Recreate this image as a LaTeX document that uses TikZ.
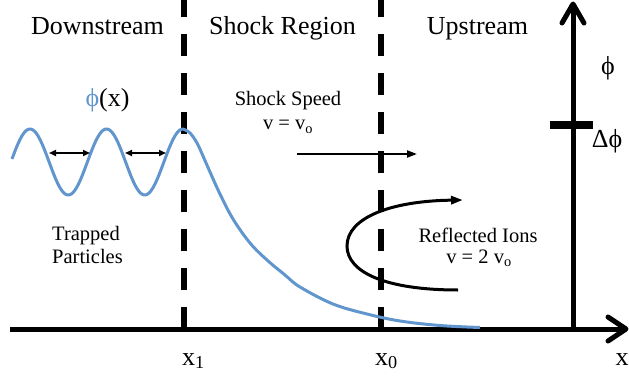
\documentclass[tikz,border=0pt]{standalone}
\usepackage{fontspec}
\setmainfont{Liberation Serif}
\usetikzlibrary{arrows.meta}
\definecolor{phiblue}{RGB}{96,150,205}
\begin{document}
\begin{tikzpicture}[x=1pt,y=-1pt,
  big/.style={font=\fontsize{26}{30}\selectfont, inner sep=0pt, anchor=base},
  small/.style={font=\fontsize{20.5}{24}\selectfont, inner sep=0pt, anchor=base},
  axisline/.style={line width=5pt},
  axishead/.style={line width=5pt, line cap=round, line join=round},
  shockline/.style={line width=5.5pt, dash pattern=on 22pt off 17pt},
  potential/.style={phiblue, line width=3pt, line join=round},
  thinarrow/.style={line width=2pt, -{Triangle[length=10pt,width=7pt]}},
  dblarrow/.style={line width=2pt, {Triangle[length=7pt,width=6pt]}-{Triangle[length=7pt,width=6pt]}},
  ionarrow/.style={line width=3pt, -{Triangle[length=12pt,width=8pt]}},
]
\useasboundingbox (0,0) rectangle (629,377);

% axes
\coordinate (origin) at (10,329);
\coordinate (xend) at (626,329);
\coordinate (xwa) at (608,317);
\coordinate (xwb) at (608,341);
\coordinate (ybase) at (573,329);
\coordinate (ytop) at (573,4);
\coordinate (ywa) at (562,23);
\coordinate (ywb) at (584,23);
\draw[axisline] (origin) -- (xend);
\draw[axishead] (xwa) -- (xend) -- (xwb);
\draw[axisline] (ybase) -- (ytop);
\draw[axishead] (ywa) -- (ytop) -- (ywb);
\fill (550,121) rectangle (593,129);

% shock boundaries
\coordinate (x1b) at (184,329);
\coordinate (x1t) at (184,0);
\coordinate (x0b) at (381,329);
\coordinate (x0t) at (381,0);
\draw[shockline] (x1b) -- (x1t);
\draw[shockline] (x0b) -- (x0t);

% potential
\draw[potential] plot[domain=12:183, samples=150] (\x, {162-33*cos(4.70588*(\x-30))})
  -- plot[smooth, tension=0.6] coordinates {(183,129) (190,133) (197,143) (203,156) (210,172) (220,194) (233,219) (250,243) (267,260) (285,275) (300,287) (333,304) (367,314) (400,321) (440,325.5) (480,327.5)};

% wavelength arrows
\coordinate (wa1) at (49,153);
\coordinate (wb1) at (90,153);
\coordinate (wa2) at (125,153);
\coordinate (wb2) at (166,153);
\draw[dblarrow] (wa1) -- (wb1);
\draw[dblarrow] (wa2) -- (wb2);

% shock speed arrow
\coordinate (ssa) at (297,154);
\coordinate (ssb) at (417,154);
\draw[thinarrow] (ssa) -- (ssb);

% reflected ions
\coordinate (ria) at (458,290);
\coordinate (rib) at (347,246);
\coordinate (ric) at (463,200);
\draw[ionarrow] (ria) .. controls (385,290) and (347,272) .. (rib) .. controls (347,218) and (390,201) .. (ric);

% labels
\node[big] (down) at (97.5,35) {Downstream};
\node[big] (shock) at (282.5,35) {Shock Region};
\node[big] (up) at (477.5,35) {Upstream};
\node[big] (phix) at (107.5,107) {\textcolor{phiblue}{ϕ}(x)};
\node[small] (ss) at (288,106) {Shock Speed};
\node[small] (ssv) at (288,130) {v = v\textsubscript{o}};
\node[small, anchor=base west] (tr1) at (52,240) {Trapped};
\node[small, anchor=base west] (tr2) at (52,263) {Particles};
\node[small] (ri1) at (478,242) {Reflected Ions};
\node[small] (ri2) at (479,263) {v = 2 v\textsubscript{o}};
\node[big] (phi) at (608,75) {ϕ};
\node[big] (dphi) at (607,147) {Δϕ};
\node[big] (xl) at (622,365) {x};
\node[big, anchor=base west] (x1l) at (182,365) {x\textsubscript{1}};
\node[big, anchor=base west] (x0l) at (375,365) {x\textsubscript{0}};
\end{tikzpicture}
\end{document}
